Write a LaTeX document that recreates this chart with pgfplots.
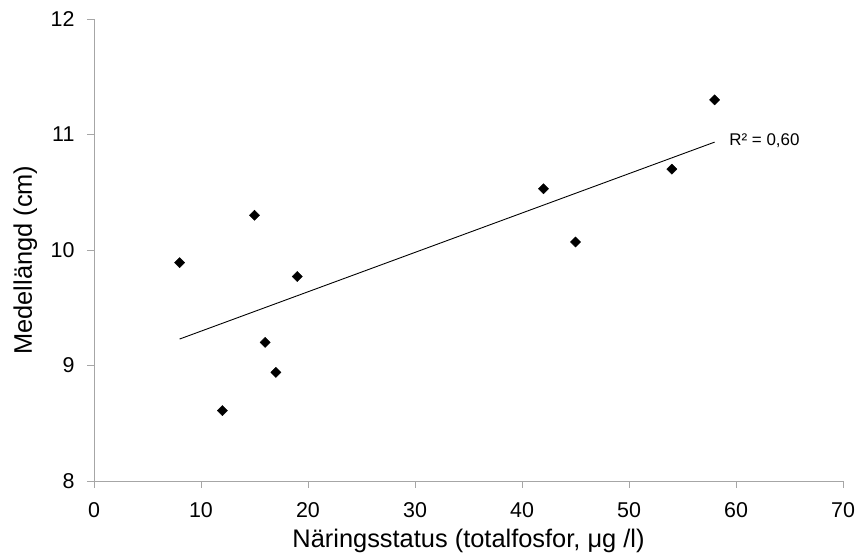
\documentclass[border=0pt]{standalone}
\usepackage{pgfplots}
\pgfplotsset{compat=1.18}
\usepackage{fontspec}
\setmainfont{Liberation Sans}
\begin{document}
\begin{tikzpicture}[x=1bp,y=1bp]
\path[use as bounding box] (-94,-77) rectangle (764,481);
\begin{axis}[
  at={(0,0)}, anchor=south west,
  scale only axis, width=749bp, height=462bp,
  xmin=0, xmax=70, ymin=8, ymax=12,
  xtick={0,10,...,70}, ytick={8,9,...,12},
  axis x line*=bottom, axis y line*=left,
  axis line style={draw=gray!70, line width=0.9pt, -},
  tick style={draw=gray!70, line width=0.9pt},
  tick align=outside, major tick length=7bp,
  /pgf/number format/assume math mode=true,
  ticklabel style={font=\fontsize{21.5}{24}\selectfont},
  xticklabel style={yshift=-11bp},
  yticklabel style={xshift=-9bp},
  xlabel={Näringsstatus (totalfosfor, μg /l)},
  ylabel={Medellängd (cm)},
  label style={font=\fontsize{25.5}{28}\selectfont},
  xlabel style={at={(axis description cs:0.5,-0.145)}, anchor=base},
  ylabel style={at={(axis description cs:-0.0828,0.478)}, anchor=base},
  clip=false,
]
\addplot[only marks, mark=square*, mark options={rotate=45}, mark size=3.6bp, black] coordinates {
(8,9.89) (12,8.61) (15,10.30) (16,9.20) (17,8.94) (19,9.77)
(42,10.53) (45,10.07) (54,10.70) (58,11.30)};
\addplot[black, line width=0.9pt, mark=none] coordinates {(8,9.229) (58,10.934)}
  node[right, xshift=11bp, yshift=1bp, font=\fontsize{17}{19}\selectfont, black] {R² = 0,60};
\end{axis}
\end{tikzpicture}
\end{document}
